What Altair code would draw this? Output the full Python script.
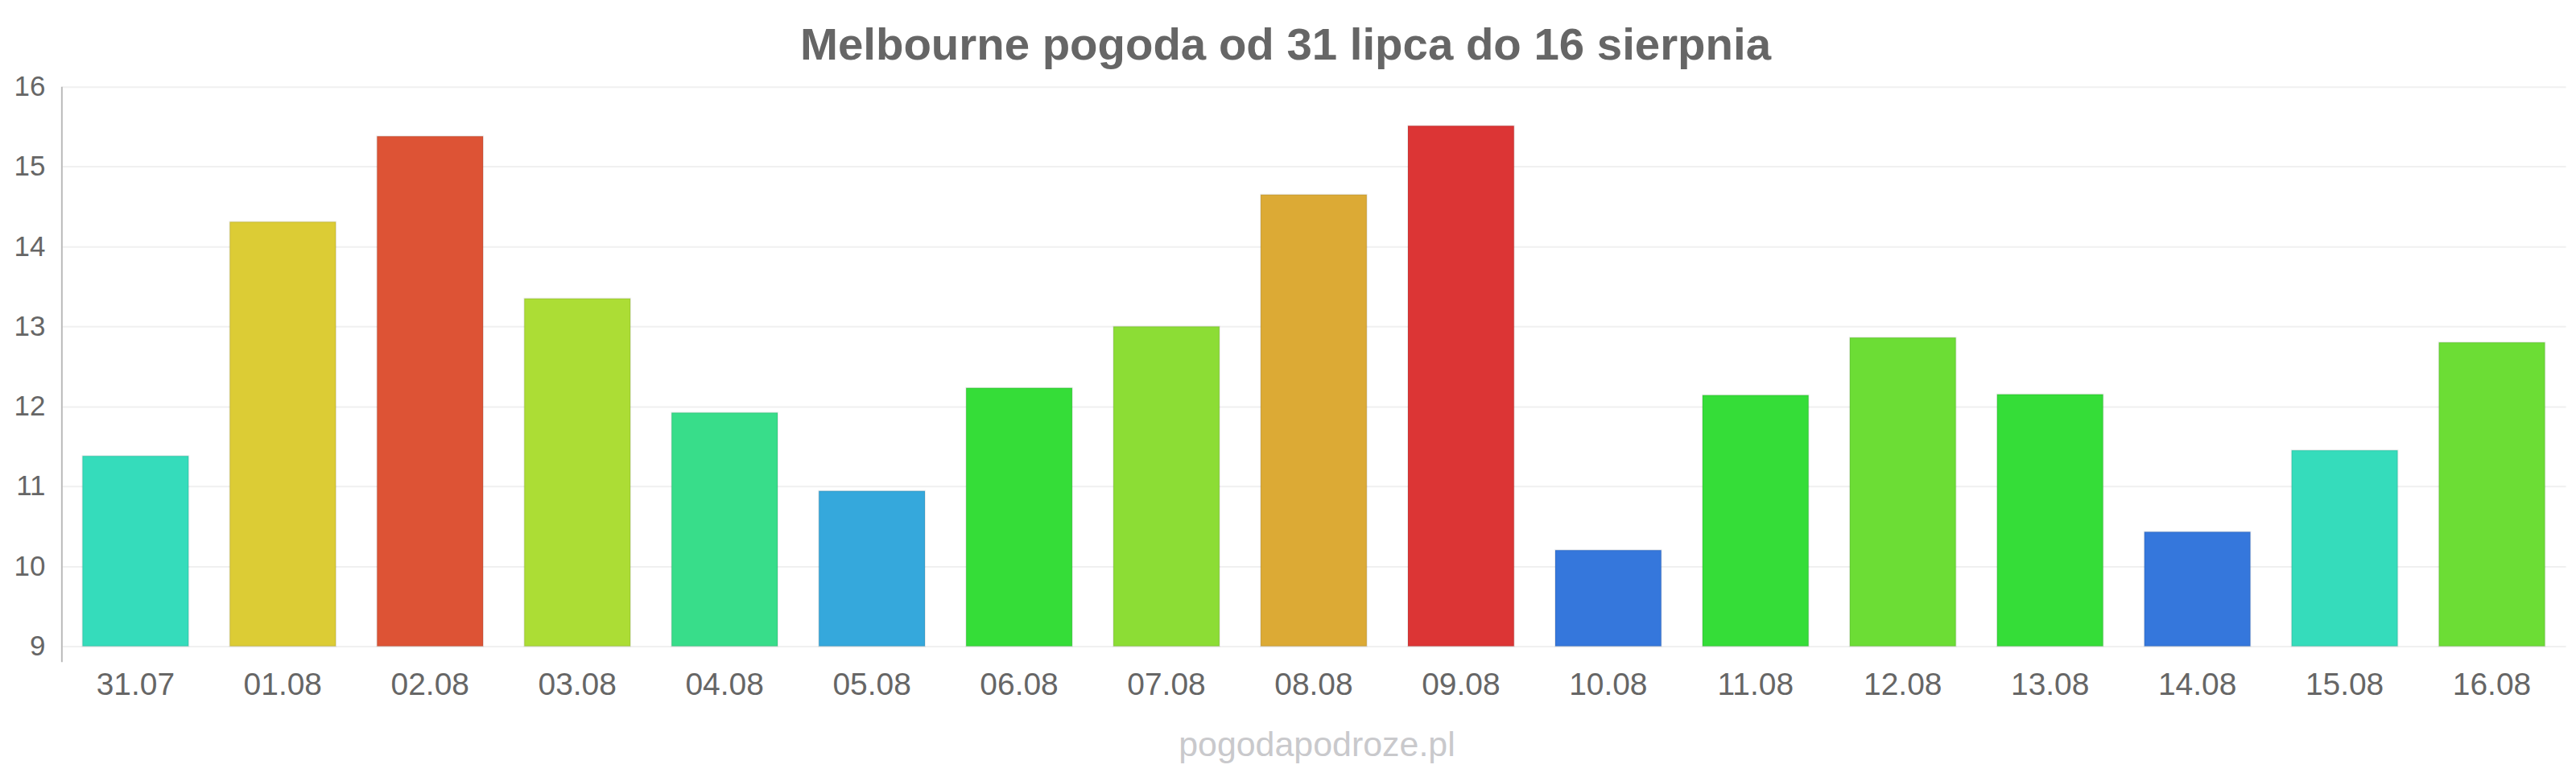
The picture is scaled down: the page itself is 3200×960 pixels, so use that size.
import altair as alt
import pandas as pd

days = ["31.07", "01.08", "02.08", "03.08", "04.08", "05.08", "06.08", "07.08", "08.08",
        "09.08", "10.08", "11.08", "12.08", "13.08", "14.08", "15.08", "16.08"]
temps = [11.38, 14.31, 15.38, 13.35, 11.92, 10.94, 12.23, 13.0, 14.65,
         15.51, 10.2, 12.14, 12.86, 12.15, 10.43, 11.45, 12.8]
colors = ["#35dcbb", "#dccc35", "#dd5335", "#acdd35", "#38dd8a", "#35a8dc", "#35dd38", "#8cdd35", "#dcaa35",
          "#dc3535", "#3577dc", "#35dd38", "#6cdd35", "#35dd38", "#3577dc", "#35dcbb", "#6cdd35"]
y_ticks = [9, 10, 11, 12, 13, 14, 15, 16]
title_text = "Melbourne pogoda od 31 lipca do 16 sierpnia"
watermark_text = "pogodapodroze.pl"

FONT = "Liberation Sans"
df = pd.DataFrame({"day": days, "temp": temps})

bars = alt.Chart(df).mark_bar(stroke="black", strokeOpacity=0.08, strokeWidth=2).encode(
    x=alt.X("day:N", sort=None,
            scale=alt.Scale(paddingInner=0.28, paddingOuter=0.14),
            axis=alt.Axis(title=None, labelAngle=0, labelFontSize=39, labelColor="#666666",
                          labelFont=FONT, labelBaseline="alphabetic", labelPadding=60,
                          ticks=False, tickSize=0, domain=False, grid=False)),
    y=alt.Y("temp:Q",
            scale=alt.Scale(domain=[9, 16], nice=False, zero=False),
            axis=alt.Axis(title=None, values=y_ticks, labelFontSize=35, labelColor="#666666",
                          labelFont=FONT, labelPadding=21, ticks=False, tickSize=0,
                          domain=False, gridColor="#f0f0f0", gridWidth=2)),
    y2=alt.datum(9),
    color=alt.Color("day:N", scale=alt.Scale(domain=days, range=colors), legend=None),
)

axis_line = alt.Chart(pd.DataFrame({"a": [0]})).mark_rule(color="#bbbbbb", strokeWidth=2).encode(
    x=alt.value(0), y=alt.value(0), y2=alt.value(716)
)

title = alt.Chart(pd.DataFrame({"t": [title_text]})).mark_text(
    font=FONT, fontSize=56.5, fontWeight="bold", color="#666666", align="center", baseline="alphabetic"
).encode(x=alt.value(1523), y=alt.value(-34), text="t:N")

watermark = alt.Chart(pd.DataFrame({"t": [watermark_text]})).mark_text(
    font=FONT, fontSize=43, color="#c9c9cc", align="center", baseline="alphabetic"
).encode(x=alt.value(1562), y=alt.value(833), text="t:N")

chart = alt.layer(bars, axis_line, title, watermark).properties(
    width=3116, height=696,
    autosize=alt.AutoSizeParams(type="none"),
    padding={"left": 69, "top": 99, "right": 5, "bottom": 150},
    view=alt.ViewBackground(stroke="transparent", strokeWidth=0),
).configure_view(strokeWidth=0, strokeOpacity=0, stroke="transparent").configure_axis(
    domain=False
).configure(background="white")

chart.save("out.html", embed_options={"renderer": "svg", "actions": False})
